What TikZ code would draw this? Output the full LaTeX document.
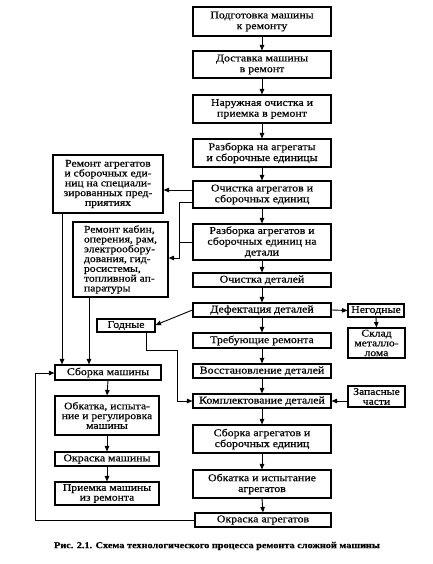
\documentclass[tikz,border=0pt]{standalone}
\usepackage{fontspec}
\setmainfont{Liberation Serif}[FakeStretch=1.14,FakeBold=0.5]
\usetikzlibrary{arrows.meta,calc}
\newcommand\flowbox[7][]{\node[box,#1,minimum width={(#5-#3)*1pt},minimum height={(#6-#4)*1pt}] (#2) at ({(#3+#5)/2},{(#4+#6)/2}) {#7};}
\begin{document}
\begin{tikzpicture}[x=1pt,y=-1pt,
  box/.style={draw,line width=1.1pt,inner sep=0pt,align=center,font=\fontsize{10.4}{10.8}\selectfont},
  tight/.style={font=\fontsize{10.2}{9.8}\selectfont},
  arr/.style={line width=0.9pt,-{Triangle[length=5.5pt,width=4.5pt]}},
  ln/.style={line width=0.9pt}]
\useasboundingbox (0,0) rectangle (433,564);
% main column
\flowbox{m1}{193}{7}{331}{36}{Подготовка машины\\к ремонту}
\flowbox{m2}{193}{51}{331}{78}{Доставка машины\\в ремонт}
\flowbox{m3}{193}{95}{331}{123}{Наружная очистка и\\приемка в ремонт}
\flowbox{m4}{193}{139}{331}{167}{Разборка на агрегаты\\и сборочные единицы}
\flowbox{m5}{193}{181}{331}{208}{Очистка агрегатов и\\сборочных единиц}
\flowbox{m6}{193}{224}{331}{260}{Разборка агрегатов и\\сборочных единиц на\\детали}
\flowbox{m7}{193}{273}{331}{287}{Очистка деталей}
\flowbox{m8}{193}{303}{331}{317}{Дефектация деталей}
\flowbox{m9}{193}{333}{331}{348}{Требующие ремонта}
\flowbox{m10}{193}{364}{331}{378}{Восстановление деталей}
\flowbox{m11}{193}{394}{331}{408}{Комплектование деталей}
\flowbox{m12}{193}{425}{331}{453}{Сборка агрегатов и\\сборочных единиц}
\flowbox{m13}{193}{470}{331}{498}{Обкатка и испытание\\агрегатов}
\flowbox{m14}{195}{513}{331}{527}{Окраска агрегатов}
% right column
\flowbox{neg}{348}{304}{404}{317}{Негодные}
\flowbox[tight]{sklad}{348}{328}{405}{358}{Склад\\металло-\\лома}
\flowbox[tight]{zap}{348}{386}{405}{407}{Запасные\\части}
% left column
\flowbox[tight]{ra}{53}{155}{163}{213}{Ремонт агрегатов\\и сборочных еди-\\ниц на специали-\\зированных пред-\\приятиях}
\flowbox[tight,align=left]{rk}{73}{222}{168}{297}{Ремонт кабин,\\оперения, рам,\\электрообору-\\дования, гид-\\росистемы,\\топливной ап-\\паратуры}
\flowbox{god}{97}{319}{155}{332}{Годные}
\flowbox{sm}{55}{365}{161}{380}{Сборка машины}
\flowbox[tight]{ob}{55}{396}{159}{435}{Обкатка, испыта-\\ние и регулировка\\машины}
\flowbox{ok}{55}{452}{159}{466}{Окраска машины}
\flowbox[tight]{pr}{55}{482}{159}{505}{Приемка машины\\из ремонта}
% caption
\node[font=\bfseries\fontsize{9}{9}\selectfont] (cap) at (217,546) {Рис. 2.1. Схема технологического процесса ремонта сложной машины};
% connectors
\foreach \a/\b in {m1/m2,m2/m3,m3/m4,m4/m5,m5/m6,m6/m7,m7/m8,m8/m9,m9/m10,m10/m11,m11/m12,m12/m13,m13/m14,sm/ob,ob/ok,ok/pr}
  \draw[arr] (\a.south) -- (\b.north);
\draw[arr] (m5.west |- 0,190) -- (ra.east |- 0,190);
\draw[arr] (m5.west |- 0,202) -- (179,202) -- (179,258) -- (rk.east |- 0,258);
\draw[ln] (m6.west |- 0,242) -- (179,242);
\draw[arr] (m8.west |- 0,310) -- (god.east |- 0,325);
\draw[arr] (m8.east) -- (neg.west);
\draw[arr] (neg.south) -- (sklad.north);
\draw[arr] (zap.west |- 0,401) -- (m11.east |- 0,401);
\draw[arr] (god.south -| 146,0) -- (146,350) -- (177,350) -- (177,401) -- (m11.west |- 0,401);
\draw[arr] (ra.south -| 62,0) -- (sm.north -| 62,0);
\draw[arr] (rk.south -| 89,0) -- (sm.north -| 89,0);
\draw[arr] (m14.west) -- (35,520) -- (35,373) -- (sm.west |- 0,373);
\end{tikzpicture}
\end{document}
